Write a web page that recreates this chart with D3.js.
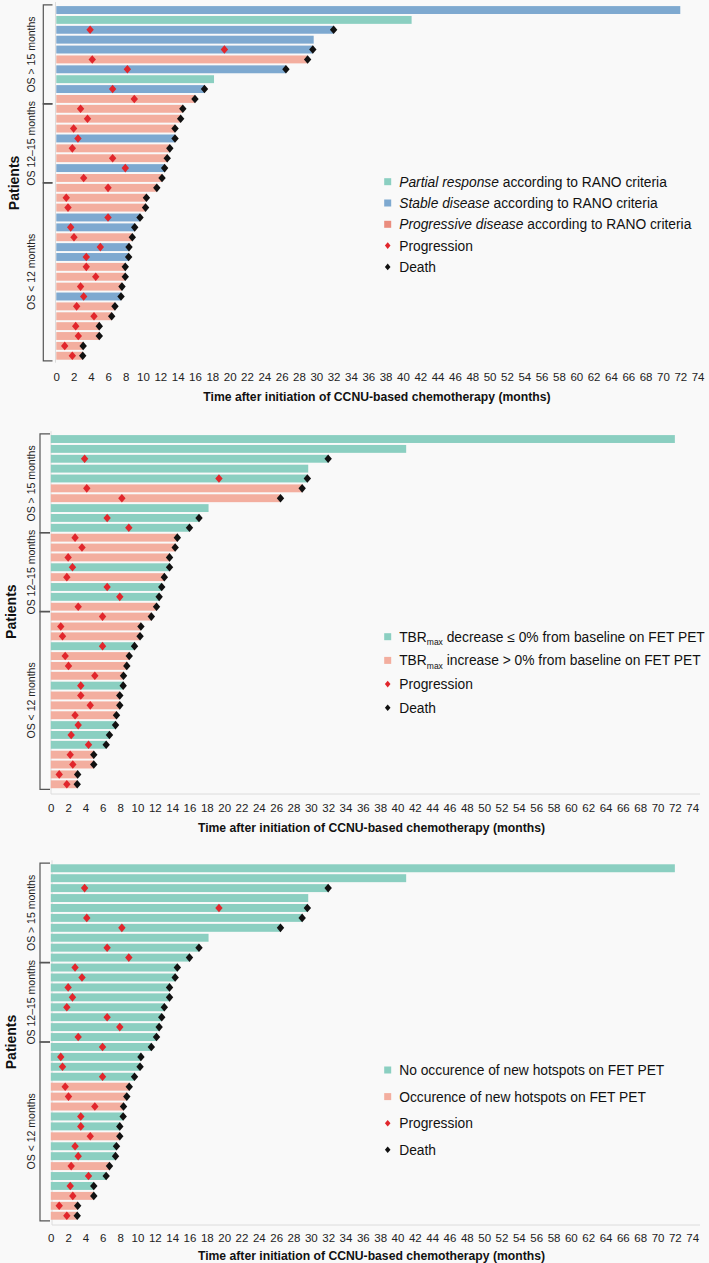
<!DOCTYPE html>
<html><head><meta charset="utf-8">
<script src="https://cdn.jsdelivr.net/npm/d3@7"></script>
<style>
html,body{margin:0;padding:0;background:#f9f9f9;}
svg{display:block;font-family:"Liberation Sans",Arial,Helvetica,sans-serif;}
</style></head><body>
<svg id="chart" width="709" height="1263"></svg>
<script>
// ---------------- DATA ----------------
const patients = d3.range(1, 37);
const osMonths = [72.0, 41.0, 32.0, 29.7, 29.6, 29.0, 26.5, 18.2, 17.1, 16.0,
  14.6, 14.35, 13.7, 13.7, 13.1, 12.8, 12.5, 12.2,
  11.6, 10.4, 10.3, 9.66, 9.05, 8.77, 8.39, 8.35, 7.96, 7.96, 7.58, 7.47, 6.77, 6.39, 4.96, 4.96, 3.1, 3.05];
const progressionMonths = [null, null, 3.9, null, 19.4, 4.15, 8.2, null, 6.5, 9.0,
  2.8, 3.6, 2.0, 2.5, 1.85, 6.5, 7.96, 3.16,
  5.97, 1.15, 1.35, 5.97, 1.66, 2.04, 5.08, 3.46, 3.46, 4.55, 2.8, 3.16, 2.35, 4.35, 2.24, 2.54, 0.97, 1.85];
const deathMonths = [null, null, 32.0, null, 29.6, 29.0, 26.5, null, 17.1, 16.0,
  14.6, 14.35, 13.7, 13.7, 13.1, 12.8, 12.5, 12.2,
  11.6, 10.4, 10.3, 9.66, 9.05, 8.77, 8.39, 8.35, 7.96, 7.96, 7.58, 7.47, 6.77, 6.39, 4.96, 4.96, 3.1, 3.05];
const ranoResponse = ["SD","PR","SD","SD","SD","PD","SD","PR","SD","PD",
  "PD","PD","PD","SD","PD","PD","SD","PD",
  "PD","PD","PD","SD","SD","PD","SD","SD","PD","PD","PD","SD","PD","PD","PD","PD","PD","PD"];
const tbrResponse = ["dec","dec","dec","dec","dec","inc","inc","dec","dec","dec",
  "inc","inc","inc","dec","inc","dec","dec","inc",
  "inc","inc","inc","dec","inc","inc","inc","dec","inc","inc","inc","dec","dec","dec","inc","inc","inc","inc"];
const hotspotResponse = ["no","no","no","no","no","no","no","no","no","no",
  "no","no","no","no","no","no","no","no",
  "no","no","no","no","yes","yes","yes","no","no","yes","no","no","yes","no","no","yes","yes","yes"];
const groupLabels = ["OS > 15 months", "OS 12\u201315 months", "OS < 12 months"];
const groupFirst = [1, 11, 19];
const groupLast = [10, 18, 36];
const xTicks = d3.range(0, 75, 2);
const xTitle = "Time after initiation of CCNU-based chemotherapy (months)";

// ---------------- STYLE ----------------
const C_TEAL = "#8bcfc1", C_BLUE = "#7ea9d0", C_SALMON = "#f3ae9f", C_RED = "#e1262c";

const panels = [
  { key: ranoResponse, colors: {PR: C_TEAL, SD: C_BLUE, PD: C_SALMON},
    x0: 56.3, x1: 697.6, yTop: 5.1, yBot: 360.7, bracketX: 43.3, brEnd: 52.5, labelX: 31.5,
    patientsX: 14, tickY: 380.5, titleY: 400.5, axisY: null, axisX: 55.5,
    legendY: 181.7, legendDy: 21.3, legendX: 387.7,
    legend: [
      {type:"sq", legSq:"#8bcfc1", parts:[["Partial response","italic"],[" according to RANO criteria",""]]},
      {type:"sq", legSq:"#7ea9d0", parts:[["Stable disease","italic"],[" according to RANO criteria",""]]},
      {type:"sq", legSq:"#ea8d7e", parts:[["Progressive disease","italic"],[" according to RANO criteria",""]]},
      {type:"pr", parts:[["Progression",""]]},
      {type:"de", parts:[["Death",""]]}
    ]},
  { key: tbrResponse, colors: {dec: C_TEAL, inc: C_SALMON},
    x0: 50.8, x1: 692.2, yTop: 434.1, yBot: 789.2, bracketX: 40, brEnd: 50, labelX: 31.5,
    patientsX: 11, tickY: 812, titleY: 831.5, axisY: 794, axisX: 51,
    legendY: 636.7, legendDy: 23.7, legendX: 387.7,
    legend: [
      {type:"sq", legSq:"#8bcfc1", tbr:true, parts:[[" decrease \u2264 0% from baseline on FET PET",""]]},
      {type:"sq", legSq:"#f3ae9f", tbr:true, parts:[[" increase > 0% from baseline on FET PET",""]]},
      {type:"pr", parts:[["Progression",""]]},
      {type:"de", parts:[["Death",""]]}
    ]},
  { key: hotspotResponse, colors: {no: C_TEAL, yes: C_SALMON},
    x0: 50.8, x1: 692.2, yTop: 863.3, yBot: 1220.7, bracketX: 40, brEnd: 50, labelX: 31.5,
    patientsX: 11, tickY: 1241.5, titleY: 1259.5, axisY: 1225, axisX: 52,
    legendY: 1070, legendDy: 26.6, legendX: 387.7,
    legend: [
      {type:"sq", legSq:"#8bcfc1", parts:[["No occurence of new hotspots on FET PET",""]]},
      {type:"sq", legSq:"#f3ae9f", parts:[["Occurence of new hotspots on FET PET",""]]},
      {type:"pr", parts:[["Progression",""]]},
      {type:"de", parts:[["Death",""]]}
    ]}
];

const svg = d3.select("#chart");
svg.append("rect").attr("width",709).attr("height",1263).attr("fill","#f9f9f9");

const diamond = (r, h) => `M0,${-h}L${r},0L0,${h}L${-r},0Z`;

panels.forEach(p => {
  const g = svg.append("g");
  const x = d3.scaleLinear().domain([0, 74]).range([p.x0, p.x1]);
  const y = d3.scaleBand().domain(patients).range([p.yTop, p.yBot]).paddingInner(0.2).paddingOuter(0.1);
  const rows = patients.map((id, i) => ({id, os: osMonths[i], prog: progressionMonths[i], death: deathMonths[i], cat: p.key[i]}));

  // left axis line
  g.append("line").attr("x1", p.axisX).attr("x2", p.axisX)
    .attr("y1", p.yTop - 3).attr("y2", p.axisY || p.yBot + 2)
    .attr("stroke", "#dcdcdc").attr("stroke-width", 1);
  if (p.axisY) {
    g.append("line").attr("x1", p.axisX).attr("x2", 700)
      .attr("y1", p.axisY).attr("y2", p.axisY)
      .attr("stroke", "#dcdcdc").attr("stroke-width", 1);
  }

  // bars
  g.selectAll("rect.bar").data(rows).join("rect").attr("class","bar")
    .attr("x", x(0)).attr("y", d => y(d.id))
    .attr("width", d => x(d.os) - x(0)).attr("height", y.bandwidth())
    .attr("fill", d => p.colors[d.cat]);

  // progression markers
  g.selectAll("path.prog").data(rows.filter(d => d.prog != null)).join("path").attr("class","prog")
    .attr("transform", d => `translate(${x(d.prog)},${y(d.id) + y.bandwidth()/2})`)
    .attr("d", diamond(3.7, 4.3)).attr("fill", C_RED);
  // death markers
  g.selectAll("path.death").data(rows.filter(d => d.death != null)).join("path").attr("class","death")
    .attr("transform", d => `translate(${x(d.death)},${y(d.id) + y.bandwidth()/2})`)
    .attr("d", diamond(3.7, 4.3)).attr("fill", "#111");

  // brackets
  groupLabels.forEach((lab, gi) => {
    const top = y(groupFirst[gi]) - 1.2;
    const bot = y(groupLast[gi]) + y.bandwidth() + 1.2;
    g.append("path")
      .attr("d", `M${p.brEnd},${top}H${p.bracketX}V${bot}H${p.brEnd}`)
      .attr("fill","none").attr("stroke","#555").attr("stroke-width",1.2);
    const cy = (top + bot) / 2;
    g.append("text").attr("transform", `translate(${p.labelX},${cy}) rotate(-90)`)
      .attr("text-anchor","middle").attr("dy","0.35em")
      .attr("font-size", 10.5).attr("fill","#222").text(lab);
  });

  // Patients label
  g.append("text").attr("transform", `translate(${p.patientsX},${(p.yTop + p.yBot)/2}) rotate(-90)`)
    .attr("text-anchor","middle").attr("dy","0.35em")
    .attr("font-size", 14).attr("font-weight","bold").attr("fill","#111").text("Patients");

  // x axis ticks
  const ax = g.append("g").attr("transform", `translate(0,${p.tickY})`)
    .call(d3.axisBottom(x).tickValues(xTicks).tickSize(0).tickPadding(0));
  ax.select(".domain").remove();
  ax.selectAll("text").attr("font-size", 11.5).attr("fill","#222")
    .attr("font-family", "'Liberation Sans',Arial,sans-serif").attr("dy", "0");
  g.append("text").attr("x", (x(0) + x(74)) / 2).attr("y", p.titleY)
    .attr("text-anchor","middle").attr("font-size", 12.2).attr("font-weight","bold")
    .attr("fill","#111").text(xTitle);

  // legend
  p.legend.forEach((it, li) => {
    const ly = p.legendY + li * p.legendDy;
    if (it.type === "sq") {
      g.append("rect").attr("x", p.legendX - 3.5).attr("y", ly - 3.5).attr("width", 7).attr("height", 7).attr("fill", it.legSq);
    } else {
      g.append("path").attr("transform", `translate(${p.legendX},${ly})`)
        .attr("d", diamond(2.8, 3.3)).attr("fill", it.type === "pr" ? C_RED : "#111");
    }
    const t = g.append("text").attr("x", p.legendX + 11.5).attr("y", ly).attr("dy","0.36em")
      .attr("font-size", 13.8).attr("fill","#111");
    if (it.tbr) {
      t.append("tspan").text("TBR");
      t.append("tspan").attr("font-size", 8.5).attr("dy", 3.8).text("max");
      t.append("tspan").attr("dy", -3.8).text(it.parts[0][0]);
    } else {
      it.parts.forEach(([s, st]) => {
        const ts = t.append("tspan").text(s);
        if (st) ts.attr("font-style", st);
      });
    }
  });
});
</script>
</body></html>
